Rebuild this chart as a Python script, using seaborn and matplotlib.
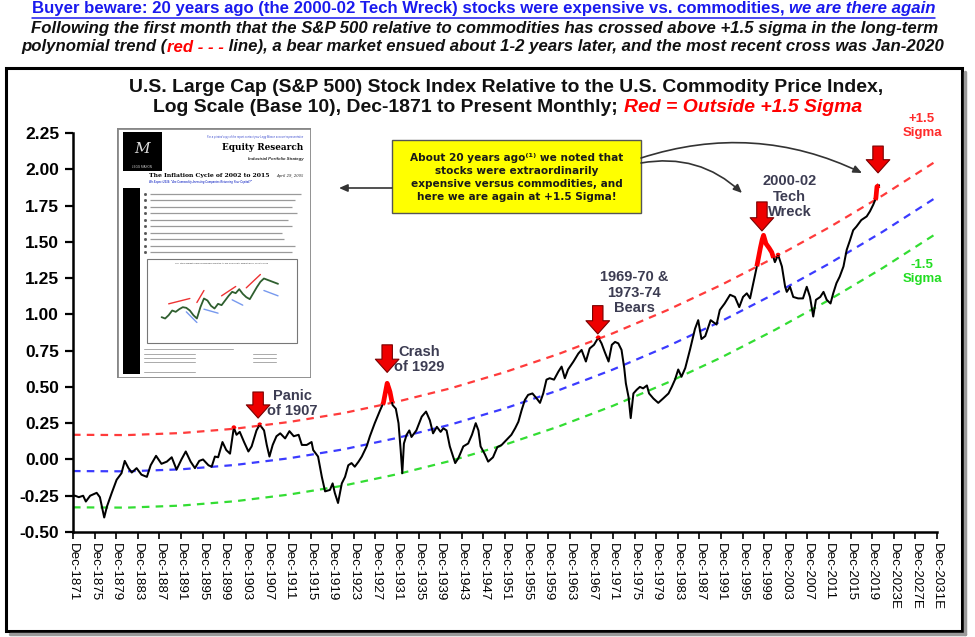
import numpy as np
import pandas as pd
import seaborn as sns
import matplotlib
matplotlib.use("Agg")
import matplotlib.pyplot as plt
from matplotlib.patches import Rectangle
from matplotlib.lines import Line2D
from matplotlib.text import Annotation

# ---------------- data ----------------
years = [1871.92, 1872.3, 1873.0, 1873.8, 1874.3, 1875.1, 1876.3, 1876.9, 1877.7, 1878.2,
         1879.1, 1880.0, 1880.9, 1881.5, 1882.2, 1882.8, 1883.7, 1884.6, 1885.6, 1886.3,
         1887.3, 1888.3, 1889.3, 1890.2, 1891.1, 1892.0, 1892.8, 1893.7, 1894.5, 1895.3,
         1896.0, 1897.0, 1897.6, 1898.2, 1898.8, 1899.6, 1900.3, 1901.0, 1901.7, 1902.2,
         1902.8, 1903.6, 1904.4, 1905.0, 1905.9, 1906.5, 1907.3, 1907.8, 1908.3, 1908.9,
         1909.6, 1910.3, 1911.2, 1912.0, 1912.8, 1913.7, 1914.3, 1915.2, 1916.1, 1916.4,
         1917.3, 1918.0, 1918.6, 1919.5, 1920.0, 1920.4, 1921.0, 1921.7, 1922.3, 1922.9,
         1923.5, 1924.1, 1924.8, 1925.4, 1926.3, 1926.9, 1927.8, 1928.8, 1929.4, 1930.1,
         1930.6, 1931.1, 1931.7, 1932.2, 1932.6, 1932.9, 1933.2, 1933.7, 1934.2, 1934.6,
         1935.5, 1936.5, 1937.3, 1938.0, 1938.6, 1939.3, 1940.0, 1940.5, 1941.1, 1941.7,
         1942.7, 1943.3, 1944.2, 1945.1, 1945.8, 1946.5, 1947.0, 1947.4, 1948.2, 1948.8,
         1949.7, 1950.5, 1951.3, 1952.2, 1953.1, 1953.8, 1954.4, 1955.0, 1955.6, 1956.2,
         1957.0, 1957.8, 1958.4, 1959.0, 1959.6, 1960.2, 1961.0, 1961.8, 1962.4, 1963.0,
         1963.6, 1964.6, 1965.5, 1966.1, 1966.9, 1967.6, 1968.4, 1969.2, 1969.8, 1970.4,
         1971.1, 1971.7, 1972.3, 1972.9, 1973.5, 1974.0, 1974.3, 1974.8, 1975.2, 1975.7,
         1976.3, 1976.9, 1977.5, 1978.2, 1978.6, 1979.4, 1980.3, 1981.2, 1982.2, 1982.8,
         1983.4, 1984.0, 1984.6, 1985.3, 1986.2, 1987.1, 1987.7, 1988.3, 1989.0, 1990.0,
         1991.1, 1991.7, 1992.6, 1993.6, 1994.5, 1995.3, 1996.0, 1996.7, 1997.3, 1997.9,
         1998.5, 1999.0, 1999.5, 1999.8, 2000.2, 2000.7, 2001.3, 2001.9, 2002.5, 2003.2,
         2003.8, 2004.1, 2004.7, 2005.3, 2006.2, 2007.1, 2007.8, 2008.4, 2009.0, 2009.5,
         2010.3, 2010.9, 2011.5, 2012.2, 2012.7, 2013.3, 2013.9, 2014.6, 2015.2, 2015.8,
         2016.4, 2017.0, 2017.9, 2018.9, 2019.5, 2020.1, 2020.6, 2020.8, 2021.2]
ratio = [-0.25, -0.25, -0.26, -0.25, -0.29, -0.25, -0.23, -0.26, -0.40, -0.325,
         -0.23, -0.14, -0.095, -0.01, -0.06, -0.09, -0.06, -0.105, -0.12, -0.04,
         0.025, -0.03, -0.015, 0.015, -0.07, 0.00, 0.055, -0.015, -0.06, -0.01,
         0.00, -0.04, -0.05, 0.02, 0.015, 0.12, 0.065, 0.04, 0.22, 0.17,
         0.19, 0.12, 0.055, 0.09, 0.20, 0.24, 0.20, 0.10, 0.02, 0.10,
         0.16, 0.18, 0.145, 0.195, 0.16, 0.17, 0.10, 0.10, 0.12, 0.065,
         0.02, -0.12, -0.22, -0.21, -0.165, -0.23, -0.30, -0.165, -0.12, -0.04,
         -0.025, -0.05, -0.015, 0.02, 0.09, 0.16, 0.25, 0.34, 0.39, 0.525,
         0.47, 0.375, 0.35, 0.25, 0.065, -0.095, 0.11, 0.17, 0.20, 0.155,
         0.20, 0.295, 0.33, 0.27, 0.18, 0.225, 0.19, 0.215, 0.20, 0.09,
         -0.025, 0.01, 0.09, 0.11, 0.17, 0.25, 0.20, 0.09, 0.035, -0.015,
         0.015, 0.085, 0.10, 0.135, 0.17, 0.215, 0.26, 0.34, 0.41, 0.445,
         0.455, 0.42, 0.39, 0.455, 0.55, 0.56, 0.55, 0.605, 0.64, 0.56,
         0.62, 0.675, 0.73, 0.755, 0.675, 0.765, 0.79, 0.84, 0.80, 0.74,
         0.675, 0.79, 0.81, 0.80, 0.755, 0.63, 0.525, 0.43, 0.285, 0.455,
         0.48, 0.50, 0.49, 0.51, 0.455, 0.42, 0.39, 0.42, 0.455, 0.50,
         0.55, 0.62, 0.57, 0.63, 0.76, 0.90, 0.96, 0.83, 0.85, 0.96,
         0.93, 1.03, 1.075, 1.135, 1.12, 1.05, 1.12, 1.145, 1.11, 1.215,
         1.32, 1.42, 1.51, 1.545, 1.49, 1.465, 1.43, 1.36, 1.41, 1.33,
         1.19, 1.155, 1.19, 1.12, 1.11, 1.11, 1.19, 1.12, 0.985, 1.10,
         1.12, 1.155, 1.10, 1.075, 1.145, 1.215, 1.26, 1.33, 1.445, 1.51,
         1.58, 1.605, 1.65, 1.675, 1.71, 1.755, 1.80, 1.88, 1.89]

# long-term polynomial trend (blue) read at 10-year steps, and the 1.5-sigma offset
trend_years = [1871.92, 1881.92, 1891.92, 1901.92, 1911.92, 1921.92, 1931.92, 1941.92, 1951.92,
               1961.92, 1971.92, 1981.92, 1991.92, 2001.92, 2011.92, 2021.92, 2031.92]
trend_mid = [-0.080, -0.082, -0.068, -0.038, 0.008, 0.069, 0.148, 0.241, 0.352,
             0.478, 0.620, 0.778, 0.952, 1.143, 1.349, 1.571, 1.810]
sigma_15 = 0.25

y_ticks = [-0.50, -0.25, 0.00, 0.25, 0.50, 0.75, 1.00, 1.25, 1.50, 1.75, 2.00, 2.25]
y_tick_labels = ["-0.50", "-0.25", "0.00", "0.25", "0.50", "0.75", "1.00", "1.25",
                 "1.50", "1.75", "2.00", "2.25"]
x_tick_years = [1871, 1875, 1879, 1883, 1887, 1891, 1895, 1899, 1903, 1907, 1911, 1915,
                1919, 1923, 1927, 1931, 1935, 1939, 1943, 1947, 1951, 1955, 1959, 1963,
                1967, 1971, 1975, 1979, 1983, 1987, 1991, 1995, 1999, 2003, 2007, 2011,
                2015, 2019, 2023, 2027, 2031]
x_tick_labels = ["Dec-1871", "Dec-1875", "Dec-1879", "Dec-1883", "Dec-1887", "Dec-1891",
                 "Dec-1895", "Dec-1899", "Dec-1903", "Dec-1907", "Dec-1911", "Dec-1915",
                 "Dec-1919", "Dec-1923", "Dec-1927", "Dec-1931", "Dec-1935", "Dec-1939",
                 "Dec-1943", "Dec-1947", "Dec-1951", "Dec-1955", "Dec-1959", "Dec-1963",
                 "Dec-1967", "Dec-1971", "Dec-1975", "Dec-1979", "Dec-1983", "Dec-1987",
                 "Dec-1991", "Dec-1995", "Dec-1999", "Dec-2003", "Dec-2007", "Dec-2011",
                 "Dec-2015", "Dec-2019", "Dec-2023E", "Dec-2027E", "Dec-2031E"]

# events: label, arrow x (year), arrow top, arrow tip, label x, label y
event_names = ["Panic\nof 1907", "Crash\nof 1929", "1969-70 &\n1973-74\nBears", "2000-02\nTech\nWreck", ""]
event_x = [1906.2, 1930.1, 1969.1, 1999.5, 2021.0]
event_top = [0.465, 0.79, 1.06, 1.775, 2.16]
event_tip = [0.285, 0.60, 0.865, 1.575, 1.975]
event_lx = [1912.6, 1936.0, 1975.8, 2004.6, 2021.0]
event_ly = [0.385, 0.69, 1.15, 1.81, 0.0]

# mini chart inside the report thumbnail
mini_vals = [0.30, 0.28, 0.33, 0.40, 0.38, 0.42, 0.45, 0.44, 0.40, 0.33, 0.28, 0.45,
             0.58, 0.55, 0.47, 0.43, 0.50, 0.48, 0.55, 0.62, 0.68, 0.66, 0.72, 0.65,
             0.60, 0.57, 0.66, 0.75, 0.83, 0.88, 0.86, 0.84, 0.82, 0.80]

# ---------------- style ----------------
sns.set_style("ticks")
NARROW = ["Liberation Sans Narrow", "Liberation Sans", "DejaVu Sans"]
ARIAL = ["Liberation Sans", "DejaVu Sans"]
plt.rcParams["font.family"] = ARIAL

W, H = 975, 637
fig = plt.figure(figsize=(W / 100, H / 100), dpi=100)


def fx(x):
    return x / W


def fy(y):
    return 1 - y / H


ax = fig.add_axes([fx(73), fy(532), 864 / W, 399 / H])
ax.set_facecolor("white")

df = pd.DataFrame({"year": years, "ratio": ratio})
tr = pd.DataFrame({"year": trend_years, "mid": trend_mid})
tr["upper"] = tr["mid"] + sigma_15
tr["lower"] = tr["mid"] - sigma_15

dash = (0, (3.4, 2.8))
sns.lineplot(data=tr, x="year", y="upper", color="#ff3b3b", lw=1.6, linestyle=dash, ax=ax, zorder=2)
sns.lineplot(data=tr, x="year", y="mid", color="#3b3bff", lw=1.6, linestyle=dash, ax=ax, zorder=2)
sns.lineplot(data=tr, x="year", y="lower", color="#33dd33", lw=1.6, linestyle=dash, ax=ax, zorder=2)
sns.lineplot(data=df, x="year", y="ratio", color="black", lw=1.45, ax=ax, zorder=3)

# red = portion of the same line lying above the +1.5 sigma band
xf = np.linspace(years[0], years[-1], 6000)
yf = np.interp(xf, years, ratio)
up = np.interp(xf, trend_years, trend_mid) + sigma_15
yred = np.where(yf > up, yf, np.nan)
ax.plot(xf, yred, color="red", lw=3.4, solid_capstyle="butt", zorder=4)

ax.set_xlim(1871.92, 2031.92)
ax.set_ylim(-0.5, 2.25)
ax.set_xlabel("")
ax.set_ylabel("")
ax.set_yticks(y_ticks)
ax.set_yticklabels(y_tick_labels, fontsize=12.5, fontweight="bold", family=ARIAL)
ax.set_xticks([y + 0.92 for y in x_tick_years])
ax.set_xticklabels(x_tick_labels, rotation=270, fontsize=9.6, family=ARIAL, va="top", ha="center")
ax.tick_params(axis="y", direction="out", length=6, width=1.6, pad=4, colors="black")
ax.tick_params(axis="x", direction="out", length=5, width=1.2, pad=3, colors="black")
for s in ["top", "right"]:
    ax.spines[s].set_visible(False)
for s in ["left", "bottom"]:
    ax.spines[s].set_linewidth(1.8)
    ax.spines[s].set_color("black")

# event arrows and labels
for name, x, top, tip, lx, ly in zip(event_names, event_x, event_top, event_tip, event_lx, event_ly):
    ax.annotate("", xy=(x, tip), xytext=(x, top), annotation_clip=False,
                arrowprops=dict(arrowstyle="simple,head_length=0.95,head_width=1.7,tail_width=0.75",
                                fc="#ee0000", ec="#7a0000", lw=0.8, shrinkA=0, shrinkB=0,
                                mutation_scale=10), zorder=6)
    if name:
        ax.text(lx, ly, name, ha="center", va="center", fontsize=10.5, fontweight="bold",
                color="#3c3c52", linespacing=1.15, zorder=6)

# ---------------- header texts ----------------
renderer = fig.canvas.get_renderer()


def rich_line(y_px, pieces, x0_px, x1_px, fs=12, underline=None):
    ts = [fig.text(0, fy(y_px), s, fontsize=fs, va="center", ha="left", **kw) for s, kw in pieces]
    tot = sum(t.get_window_extent(renderer).width for t in ts)
    sc = (x1_px - x0_px) / tot
    for t in ts:
        t.set_fontsize(fs * sc)
    ws = [t.get_window_extent(renderer).width for t in ts]
    tot = sum(ws)
    x = (x0_px + x1_px) / 2 - tot / 2
    start = x
    for t, w in zip(ts, ws):
        t.set_x(fx(x))
        x += w
    if underline:
        fig.add_artist(Line2D([fx(start), fx(start + tot)], [fy(y_px + 8.5)] * 2,
                              color=underline, lw=1.1))


BLUE = "#1a1aee"
rich_line(9, [("Buyer beware: 20 years ago (the 2000-02 Tech Wreck) stocks were expensive vs. commodities, ",
               dict(color=BLUE, fontweight="bold", family=NARROW)),
              ("we are there again", dict(color=BLUE, fontweight="bold", style="italic", family=NARROW))],
          34, 933, underline=BLUE)
rich_line(29, [("Following the first month that the S&P 500 relative to commodities has crossed above +1.5 sigma in the long-term",
                dict(color="#111111", fontweight="bold", style="italic", family=NARROW))], 34, 935)
rich_line(47, [("polynomial trend (", dict(color="#111111", fontweight="bold", style="italic", family=NARROW)),
               ("red - - -", dict(color="red", fontweight="bold", style="italic", family=NARROW)),
               (" line), a bear market ensued about 1-2 years later, and the most recent cross was Jan-2020",
                dict(color="#111111", fontweight="bold", style="italic", family=NARROW))], 25, 940)

rich_line(88, [("U.S. Large Cap (S&P 500) Stock Index Relative to the U.S. Commodity Price Index,",
                dict(color="#111111", fontweight="bold", family=NARROW))], 129, 883)
rich_line(107, [("Log Scale (Base 10), Dec-1871 to Present Monthly; ",
                 dict(color="#111111", fontweight="bold", family=NARROW)),
                ("Red = Outside +1.5 Sigma", dict(color="red", fontweight="bold", style="italic", family=NARROW))],
          153, 862)

# outer frame
fig.add_artist(Rectangle((fx(6), fy(631)), (962 - 6) / W, (631 - 68) / H, transform=fig.transFigure,
                         fill=False, ec="black", lw=2.2, zorder=1))
fig.add_artist(Line2D([fx(965), fx(965)], [fy(72), fy(634)], color="#9a9a9a", lw=2.5))
fig.add_artist(Line2D([fx(10), fx(965)], [fy(634), fy(634)], color="#9a9a9a", lw=2.5))

# sigma labels
fig.text(fx(922), fy(126), "+1.5\nSigma", color="#ff2a2a", fontsize=9.5, fontweight="bold",
         ha="center", va="center", linespacing=1.2)
fig.text(fx(922), fy(272), "-1.5\nSigma", color="#22dd22", fontsize=9.5, fontweight="bold",
         ha="center", va="center", linespacing=1.2)

# callout box
bx0, by0, bx1, by1 = 392, 140, 641, 213
fig.add_artist(Rectangle((fx(bx0), fy(by1)), (bx1 - bx0) / W, (by1 - by0) / H, transform=fig.transFigure,
                         fc="#ffff00", ec="#555555", lw=1.0, zorder=5))
fig.text(fx((bx0 + bx1) / 2), fy((by0 + by1) / 2 + 1),
         "About 20 years ago\u207d\u00b9\u207e we noted that\nstocks were extraordinarily\n"
         "expensive versus commodities, and\nhere we are again at +1.5 Sigma!",
         ha="center", va="center", fontsize=7.6, fontweight="bold", color="#1a1a1a",
         family=["DejaVu Sans"], linespacing=1.35, zorder=6)
arrow_kw = dict(arrowstyle="-|>,head_length=0.5,head_width=0.22", color="#333333", lw=1.2,
                shrinkA=0, shrinkB=0)
fig.add_artist(Annotation("", xy=(fx(339), fy(188)), xytext=(fx(bx0), fy(188)),
                          xycoords="figure fraction", arrowprops=dict(arrow_kw), zorder=5))
fig.add_artist(Annotation("", xy=(fx(742), fy(193)), xytext=(fx(bx1), fy(163)),
                          xycoords="figure fraction",
                          arrowprops=dict(arrow_kw, connectionstyle="arc3,rad=-0.25"), zorder=5))
fig.add_artist(Annotation("", xy=(fx(862), fy(173)), xytext=(fx(bx1), fy(158)),
                          xycoords="figure fraction",
                          arrowprops=dict(arrow_kw, connectionstyle="arc3,rad=-0.2"), zorder=5))

# ---------------- report thumbnail ----------------
px0, py0, px1, py1 = 117, 128, 311, 378
pw, ph = px1 - px0, py1 - py0
ins = fig.add_axes([fx(px0), fy(py1), pw / W, ph / H])
ins.set_xlim(0, 1)
ins.set_ylim(1, 0)
ins.axis("off")
ins.add_patch(Rectangle((0, 0), 1, 1, fc="white", ec="#888888", lw=2.0, transform=ins.transAxes))
ins.add_patch(Rectangle((0.03, 0.015), 0.2, 0.155, fc="black", ec="none"))
ins.text(0.13, 0.085, "M", color="#dddddd", fontsize=11, family=["DejaVu Serif"], style="italic",
         ha="center", va="center")
ins.text(0.13, 0.155, "LEGG MASON", color="#cccccc", fontsize=2.2, ha="center", va="center")
ins.text(0.96, 0.035, "For a printed copy of the report contact your Legg Mason account representative",
         color="#3344cc", fontsize=1.9, ha="right", va="center", style="italic")
ins.text(0.96, 0.078, "Equity Research", color="black", fontsize=6.4, fontweight="bold",
         family=["DejaVu Serif"], ha="right", va="center")
ins.text(0.96, 0.125, "Industrial Portfolio Strategy", color="#222222", fontsize=3.1, fontweight="bold",
         style="italic", ha="right", va="center")
ins.text(0.165, 0.192, "The Inflation Cycle of 2002 to 2015", color="black", fontsize=4.4, fontweight="bold",
         family=["DejaVu Serif"], ha="left", va="center")
ins.text(0.96, 0.192, "April 29, 2005", color="#222222", fontsize=2.7, style="italic",
         family=["DejaVu Serif"], ha="right", va="center")
ins.text(0.165, 0.215, "We Expect 2016: \"Are Commodity-Investing Companies Returning Your Capital?\"",
         color="#3344cc", fontsize=1.9, fontweight="bold", style="italic", ha="left", va="center")
ins.add_patch(Rectangle((0.03, 0.24), 0.09, 0.745, fc="black", ec="none"))
bullet_len = [0.95, 0.92, 0.9, 0.93, 0.88, 0.9, 0.85, 0.86, 0.92, 0.9]
for i, L in enumerate(bullet_len):
    yy = 0.262 + i * 0.026
    ins.plot([0.145], [yy], marker="s", ms=1.0, color="#555555")
    ins.plot([0.17, L], [yy, yy], color="#9a9a9a", lw=0.9, solid_capstyle="butt")
ins.add_patch(Rectangle((0.155, 0.525), 0.775, 0.335, fc="white", ec="#777777", lw=0.8))
ins.text(0.54, 0.54, "U.S. Stock Market Index Performance Relative to The Commodity Market Index, 1875 to 2015",
         fontsize=1.6, ha="center", va="center", color="#333333")
mini = fig.add_axes([fx(px0 + 0.2 * pw), fy(py0 + 0.81 * ph), 0.66 * pw / W, 0.24 * ph / H])
mini.axis("off")
mini.set_ylim(0.1, 1.0)
sns.lineplot(x=list(range(len(mini_vals))), y=mini_vals, color="#2f5f2f", lw=1.3, ax=mini)
mini.plot([2, 8], [0.50, 0.58], color="#ee3333", lw=1.0)
mini.plot([10, 12], [0.52, 0.70], color="#ee3333", lw=1.0)
mini.plot([17, 21], [0.62, 0.76], color="#ee3333", lw=1.0)
mini.plot([24, 28], [0.74, 0.94], color="#ee3333", lw=1.0)
mini.plot([7, 10], [0.38, 0.22], color="#7799ee", lw=1.0)
mini.plot([12, 16], [0.42, 0.36], color="#7799ee", lw=1.0)
mini.plot([20, 23], [0.56, 0.48], color="#7799ee", lw=1.0)
mini.plot([29, 33], [0.70, 0.62], color="#7799ee", lw=1.0)
for i, yy in enumerate([0.885, 0.905, 0.92, 0.935, 0.975]):
    ins.plot([0.14, 0.4 if i else 0.6], [yy, yy], color="#aaaaaa", lw=0.7)
    if 0 < i < 4:
        ins.plot([0.7, 0.82], [yy, yy], color="#aaaaaa", lw=0.7)

fig.savefig("out.png", dpi=100, facecolor="white")
